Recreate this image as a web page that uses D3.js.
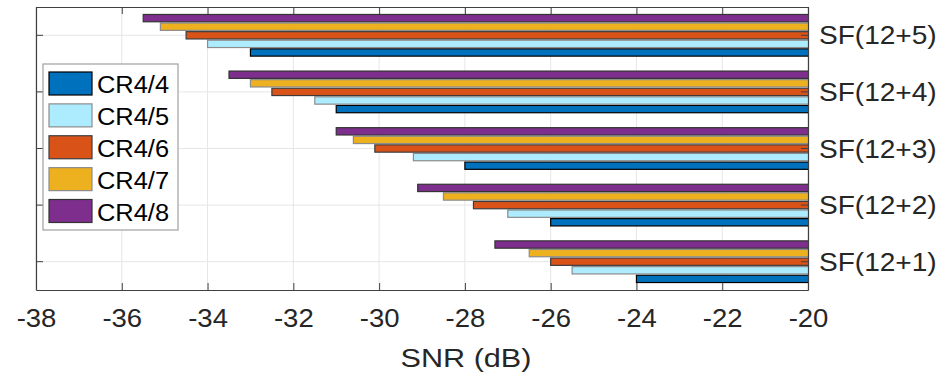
<!DOCTYPE html>
<html>
<head>
<meta charset="utf-8">
<script src="https://cdn.jsdelivr.net/npm/d3@7"></script>
<style>
  html, body { margin: 0; padding: 0; background: #fff; }
  svg { display: block; }
  text { font-family: "Liberation Sans", Arial, Helvetica, sans-serif; }
</style>
</head>
<body>
<svg id="chart" width="947" height="380"></svg>
<script>
// ---- data ----
const categories = ["SF(12+1)", "SF(12+2)", "SF(12+3)", "SF(12+4)", "SF(12+5)"];
const seriesNames = ["CR4/4", "CR4/5", "CR4/6", "CR4/7", "CR4/8"];
const cr44 = [-24.0, -26.0, -28.0, -31.0, -33.0];
const cr45 = [-25.5, -27.0, -29.2, -31.5, -34.0];
const cr46 = [-26.0, -27.8, -30.1, -32.5, -34.5];
const cr47 = [-26.5, -28.5, -30.6, -33.0, -35.1];
const cr48 = [-27.3, -29.1, -31.0, -33.5, -35.5];
const xTickValues = [-38, -36, -34, -32, -30, -28, -26, -24, -22, -20];
const xTickLabels = ["-38", "-36", "-34", "-32", "-30", "-28", "-26", "-24", "-22", "-20"];
const xLabel = "SNR (dB)";

const seriesValues = [cr44, cr45, cr46, cr47, cr48];
const fills = ["#0072BD", "#ADEBFF", "#D95319", "#EDB120", "#7E2F8E"];
const strokes = ["#000000", "#8c8c8c", "#3c3c3c", "#8c8c8c", "#333333"];

const rows = [];
categories.forEach((c, i) => {
  seriesNames.forEach((s, j) => rows.push({ cat: c, ser: s, val: seriesValues[j][i], j }));
});

// ---- layout ----
const L = 36, R = 808, T = 7, B = 290;
const svg = d3.select("#chart");

const x = d3.scaleLinear().domain([-38, -20]).range([L, R]);
const y = d3.scaleBand().domain(categories.slice().reverse()).range([T, B]).padding(0);
const yi = d3.scaleBand().domain(seriesNames.slice().reverse())
  .range([0, y.bandwidth()]).paddingInner(0.15).paddingOuter(0.87);

svg.append("defs").append("clipPath").attr("id", "clip")
  .append("rect").attr("x", L).attr("y", T).attr("width", R - L).attr("height", B - T);

// grid
const grid = svg.append("g");
grid.selectAll("line.vx").data(xTickValues).join("line")
  .attr("x1", d => x(d)).attr("x2", d => x(d)).attr("y1", T).attr("y2", B)
  .attr("stroke", "#e6e6e6").attr("stroke-width", 1);
grid.selectAll("line.hy").data(categories).join("line")
  .attr("x1", L).attr("x2", R)
  .attr("y1", d => y(d) + y.bandwidth() / 2).attr("y2", d => y(d) + y.bandwidth() / 2)
  .attr("stroke", "#e6e6e6").attr("stroke-width", 1);

// bars
svg.append("g").attr("clip-path", "url(#clip)")
  .selectAll("rect").data(rows).join("rect")
  .attr("x", d => x(d.val))
  .attr("y", d => y(d.cat) + yi(d.ser))
  .attr("width", d => x(-20) + 4 - x(d.val))
  .attr("height", yi.bandwidth())
  .attr("fill", d => fills[d.j])
  .attr("stroke", d => strokes[d.j])
  .attr("stroke-width", 1.2);

// axes
const axisColor = "#404040";
const tickLen = 7;
const xb = svg.append("g").attr("transform", `translate(0,${B})`)
  .call(d3.axisBottom(x).tickValues(xTickValues).tickSizeInner(-tickLen).tickSizeOuter(0)
    .tickPadding(19).tickFormat((d, i) => xTickLabels[i]));
const xt = svg.append("g").attr("transform", `translate(0,${T})`)
  .call(d3.axisTop(x).tickValues(xTickValues).tickSizeInner(-tickLen).tickSizeOuter(0).tickFormat(""));
const yl = svg.append("g").attr("transform", `translate(${L},0)`)
  .call(d3.axisLeft(y).tickSizeInner(-tickLen).tickSizeOuter(0).tickFormat(""));
const yr = svg.append("g").attr("transform", `translate(${R},0)`)
  .call(d3.axisRight(y).tickSizeInner(-tickLen).tickSizeOuter(0).tickPadding(17));

[xb, xt, yl, yr].forEach(g => {
  g.select(".domain").attr("stroke", axisColor).attr("stroke-width", 1.2);
  g.selectAll(".tick line").attr("stroke", axisColor).attr("stroke-width", 1);
});
xb.selectAll(".tick text")
  .attr("font-size", 25).attr("fill", "#262626")
  .attr("font-family", "Liberation Sans, Arial, sans-serif")
  .attr("transform", "scale(1.1,1)");
yr.selectAll(".tick text")
  .attr("font-size", 25.5).attr("fill", "#262626")
  .attr("font-family", "Liberation Sans, Arial, sans-serif")
  .attr("transform", "scale(1.1,1)")
  .attr("x", 10).attr("dy", "0.36em");

// x label
svg.append("text")
  .attr("transform", "translate(466,367) scale(1.2,1)")
  .attr("text-anchor", "middle")
  .attr("font-size", 25.5).attr("fill", "#262626")
  .text(xLabel);

// legend
const lg = svg.append("g");
lg.append("rect").attr("x", 43).attr("y", 64).attr("width", 135).attr("height", 166)
  .attr("fill", "#fff").attr("stroke", "#a0a0a0").attr("stroke-width", 1.2);
const ly = d3.scalePoint().domain(seriesNames).range([83.5, 211]);
const items = lg.selectAll("g.item").data(seriesNames).join("g")
  .attr("transform", d => `translate(0,${ly(d)})`);
items.append("rect").attr("x", 49).attr("y", -11.5).attr("width", 43).attr("height", 23)
  .attr("fill", (d, i) => fills[i]).attr("stroke", (d, i) => strokes[i]).attr("stroke-width", 1.2);
items.append("text").attr("transform", "translate(97,9.5) scale(1.03,1)")
  .attr("font-size", 24.7).attr("fill", "#000")
  .text(d => d);
</script>
</body>
</html>
